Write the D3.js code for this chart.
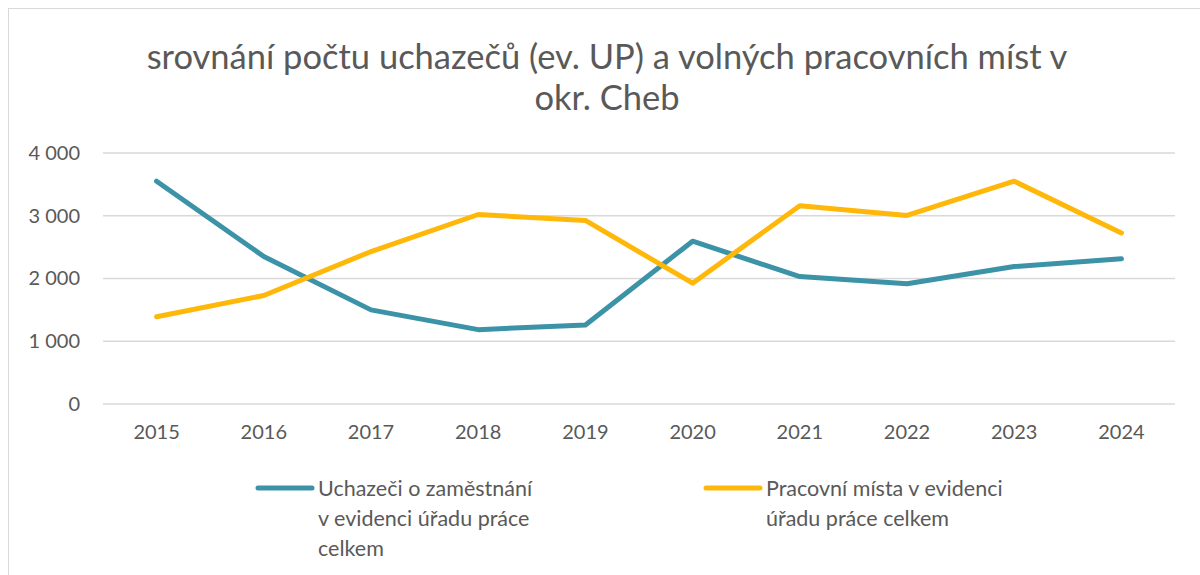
<html>
<head>
<meta charset="utf-8">
<script src="https://d3js.org/d3.v7.min.js"></script>
<style>
body { margin: 0; background: #fff; font-family: Lato, 'Open Sans', sans-serif; }
</style>
</head>
<body>
<div id="chart"></div>
<script>
// data
var years = ["2015","2016","2017","2018","2019","2020","2021","2022","2023","2024"];
var uchazeci = [3550, 2350, 1500, 1185, 1260, 2595, 2030, 1915, 2190, 2315];
var mista = [1390, 1730, 2430, 3020, 2925, 1925, 3160, 3005, 3550, 2725];
var yTicks = [0, 1000, 2000, 3000, 4000];
var seriesNames = [
  ["Uchazeči o zaměstnání", "v evidenci úřadu práce", "celkem"],
  ["Pracovní místa v evidenci", "úřadu práce celkem"]
];
var colors = ["#3c93a8", "#ffb80a"];

var W = 1200, H = 575;
var svg = d3.select("#chart").append("svg").attr("width", W).attr("height", H);

// outer frame
svg.append("rect").attr("x", 8.5).attr("y", 8.5).attr("width", W).attr("height", H)
  .attr("fill", "none").attr("stroke", "#d9d9d9");

var x = d3.scaleBand().domain(years).range([103, 1175]);
var y = d3.scaleLinear().domain([0, 4000]).range([404, 153]);

var fmt = d3.formatLocale({decimal: ",", thousands: "\u00a0", grouping: [3], currency: ["", ""]}).format(",d");

// title
svg.append("text").attr("x", 607).attr("y", 69).attr("text-anchor", "middle")
  .attr("font-size", 34.5).attr("fill", "#595959")
  .text("srovnání počtu uchazečů (ev. UP) a volných pracovních míst v");
svg.append("text").attr("x", 607).attr("y", 110).attr("text-anchor", "middle")
  .attr("font-size", 34.5).attr("fill", "#595959")
  .text("okr. Cheb");

// gridlines
svg.append("g").selectAll("line").data(yTicks).enter().append("line")
  .attr("x1", x.range()[0]).attr("x2", x.range()[1])
  .attr("y1", function(d){ return y(d); }).attr("y2", function(d){ return y(d); })
  .attr("stroke", "#d9d9d9").attr("stroke-width", 1.3);

// y axis labels
var yAxis = svg.append("g").attr("transform", "translate(" + x.range()[0] + ",0)")
  .call(d3.axisLeft(y).tickValues(yTicks).tickFormat(fmt).tickSize(0).tickPadding(23));
yAxis.select(".domain").remove();
yAxis.selectAll("text").attr("font-size", 20).attr("fill", "#595959").attr("font-family", "Lato, sans-serif");

// x axis labels
var xAxis = svg.append("g").attr("transform", "translate(0," + y(0) + ")")
  .call(d3.axisBottom(x).tickSize(0).tickPadding(21));
xAxis.select(".domain").remove();
xAxis.selectAll("text").attr("font-size", 20).attr("fill", "#595959").attr("font-family", "Lato, sans-serif");

// lines
var line = d3.line()
  .x(function(d, i){ return x(years[i]) + x.bandwidth() / 2; })
  .y(function(d){ return y(d); });

[uchazeci, mista].forEach(function(s, k) {
  svg.append("path").datum(s).attr("d", line)
    .attr("fill", "none").attr("stroke", colors[k]).attr("stroke-width", 5)
    .attr("stroke-linecap", "round").attr("stroke-linejoin", "round");
});

// legend
var legX = [258, 706];
seriesNames.forEach(function(lines, k) {
  var g = svg.append("g");
  g.append("line").attr("x1", legX[k]).attr("x2", legX[k] + 54)
    .attr("y1", 488).attr("y2", 488)
    .attr("stroke", colors[k]).attr("stroke-width", 5).attr("stroke-linecap", "round");
  var t = g.append("text").attr("font-size", 21.5).attr("fill", "#595959");
  lines.forEach(function(l, j) {
    t.append("tspan").attr("x", legX[k] + 60).attr("y", 496 + j * 30).text(l);
  });
});
</script>
</body>
</html>
